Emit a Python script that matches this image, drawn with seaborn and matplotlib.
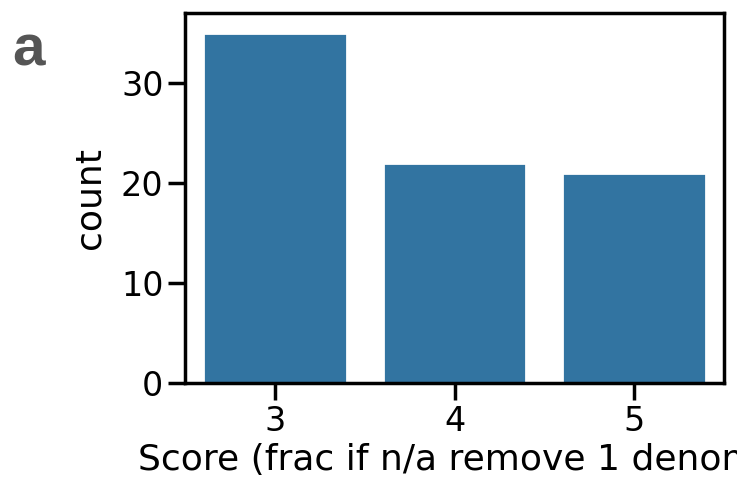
import matplotlib
matplotlib.use("Agg")
import matplotlib.pyplot as plt
import seaborn as sns
import pandas as pd

scores = ["3", "4", "5"]
counts = [35, 22, 21]
xlabel = "Score (frac if n/a remove 1 denom)"
ylabel = "count"
panel = "a"

sns.set_theme(style="ticks", context="poster",
              rc={"xtick.labelsize": 24, "ytick.labelsize": 24,
                  "axes.labelsize": 26})
plt.rcParams['font.family'] = ['DejaVu Sans']
for k in ["text.color", "axes.labelcolor", "xtick.color", "ytick.color", "axes.edgecolor"]:
    plt.rcParams[k] = "black"

df = pd.DataFrame({"score": scores, "count": counts})

fig = plt.figure(figsize=(7.37, 4.8), dpi=100)
ax = fig.add_axes([185/737, 1 - 383/480, (724-185)/737, (383-13)/480])
sns.barplot(data=df, x="score", y="count", ax=ax, color="#1f77b4")
ax.set_ylim(0, 37.0)
ax.set_yticks([0, 10, 20, 30])
ax.set_xlabel(xlabel, labelpad=4)
ax.set_ylabel(ylabel, labelpad=10)

fig.text(12/737, 1 - 65/480, panel, fontsize=42, fontweight="bold",
         color="#555555", family=["Liberation Sans", "DejaVu Sans"], va="baseline")

fig.savefig("out.png", dpi=100)
